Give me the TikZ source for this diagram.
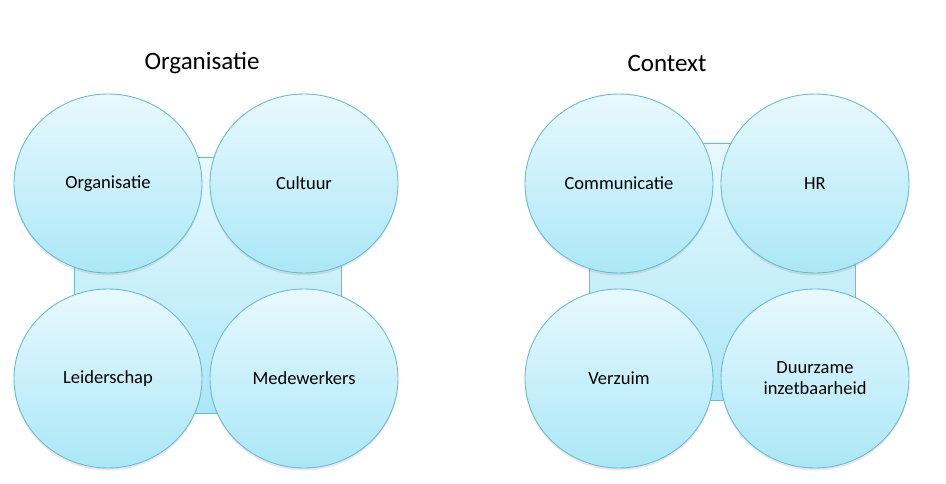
\documentclass[tikz,border=0pt]{standalone}
\usepackage{fontspec}
\setmainfont{Carlito}
\usetikzlibrary{shapes.geometric,shadows}
\definecolor{ctop}{HTML}{E8F9FE}
\definecolor{cbot}{HTML}{ABE7F7}
\definecolor{cedge}{HTML}{6DBBD2}
\tikzset{
  bubble/.style={ellipse, minimum width=188pt, minimum height=179pt, inner sep=0pt,
    draw=cedge, line width=0.9pt, top color=ctop, bottom color=cbot,
    drop shadow={opacity=0.18, shadow xshift=0pt, shadow yshift=-2.5pt},
    font=\fontsize{18.5}{21}\selectfont, align=center, text=black},
  backsq/.style={draw=cedge, line width=0.9pt, top color=ctop, bottom color=cbot, inner sep=0pt},
  ttl/.style={font=\fontsize{25}{28}\selectfont, text=black}
}
\begin{document}
\begin{tikzpicture}[x=1pt,y=-1pt]
\useasboundingbox[fill=white] (0,0) rectangle (946,484);
% left group
\node[backsq, minimum width=267pt, minimum height=256pt] (sqL) at (207.5,285) {};
\node[ttl] (tL) at (202,63) {Organisatie};
\node[bubble] (org) at (108,183.5) {Organisatie};
\node[bubble] (cul) at (304,183.5) {Cultuur};
\node[bubble] (lei) at (108,378.5) {Leiderschap};
\node[bubble] (med) at (304,378.5) {Medewerkers};
% right group
\node[backsq, minimum width=266pt, minimum height=257pt] (sqR) at (722,271.5) {};
\node[ttl] (tR) at (667,63) {Context};
\node[bubble] (com) at (619,183.5) {Communicatie};
\node[bubble] (hr) at (815,183.5) {HR};
\node[bubble] (ver) at (619,378.5) {Verzuim};
\node[bubble] (duu) at (815,378.5) {Duurzame\\inzetbaarheid};
\end{tikzpicture}
\end{document}
